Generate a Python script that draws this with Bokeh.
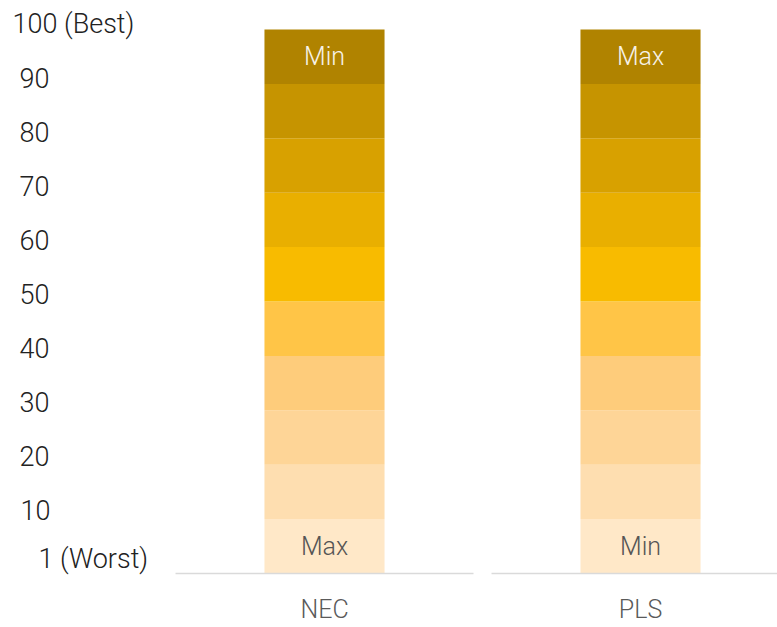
from bokeh.plotting import figure
from bokeh.models import ColumnDataSource, Range1d
from bokeh.core.properties import value
from bokeh.embed import file_html
from bokeh.resources import INLINE

# ---- data ----
categories = ["NEC", "PLS"]
segment_edges = [0, 10, 20, 30, 40, 50, 60, 70, 80, 90, 100]
segment_colors = ["#FFE8C8", "#FEDEB0", "#FED597", "#FECC7B", "#FFC547",
                  "#F8BB00", "#E9AF00", "#D8A100", "#C69400", "#B08300"]
top_labels = ["Min", "Max"]
bottom_labels = ["Max", "Min"]
tick_values = [100, 90, 80, 70, 60, 50, 40, 30, 20, 10, 1]
tick_labels = ["100 (Best)", "90", "80", "70", "60", "50", "40", "30", "20", "10", "1 (Worst)"]

# ---- styling ----
FONT = value("Roboto Light, Roboto")
label_indent = [12, 19, 19, 19, 19, 19, 19, 19, 19, 20, 38]

W, H = 777, 627
p = figure(width=W, height=H, output_backend="svg", toolbar_location=None,
           x_range=Range1d(-1.0253, 1.4335), y_range=Range1d(-9.926, 105.33),
           min_border=0, min_border_left=0, min_border_right=0,
           min_border_top=0, min_border_bottom=0)
p.extra_y_ranges = {"labels": Range1d(-11.792, 104.449)}
p.axis.visible = False
p.grid.visible = False
p.outline_line_color = None
p.background_fill_color = "white"
p.border_fill_color = "white"

# stacked segments
xs, bots, tops, cols = [], [], [], []
for i, _ in enumerate(categories):
    for k in range(len(segment_colors)):
        xs.append(i)
        bots.append(segment_edges[k])
        tops.append(segment_edges[k + 1])
        cols.append(segment_colors[k])
src = ColumnDataSource(dict(x=xs, bottom=bots, top=tops, color=cols))
p.vbar(x="x", bottom="bottom", top="top", width=0.38, color="color", source=src,
       line_color=None)

# baseline per category
idx = list(range(len(categories)))
p.segment(x0=[i - 0.4715 for i in idx], x1=[i + 0.4715 for i in idx],
          y0=[0] * len(idx), y1=[0] * len(idx), line_color="#DADADA", line_width=1.5)

# in-bar labels
top_mid = (segment_edges[-2] + segment_edges[-1]) / 2
bot_mid = (segment_edges[0] + segment_edges[1]) / 2
p.text(x=idx, y=[top_mid] * len(idx), text=top_labels, text_align="center",
       text_baseline="middle", text_color="#F7F2E8", text_font=FONT,
       text_font_size="25px")
p.text(x=idx, y=[bot_mid] * len(idx), text=bottom_labels, text_align="center",
       text_baseline="middle", text_color="#555555", text_font=FONT,
       text_font_size="25px")

# category labels
p.text(x=idx, y=[0] * len(idx), text=categories, text_align="center",
       text_baseline="middle", y_offset=36, text_color="#5A5A5A", text_font=FONT,
       text_font_size="25px")

# value-axis labels
p.text(x=[-1.0253] * len(tick_values), y=tick_values, text=tick_labels,
       x_offset=label_indent, y_range_name="labels", text_align="left",
       text_baseline="middle", text_color="#222222", text_font=FONT,
       text_font_size="27px")

open("out.html", "w").write(file_html(p, INLINE))
